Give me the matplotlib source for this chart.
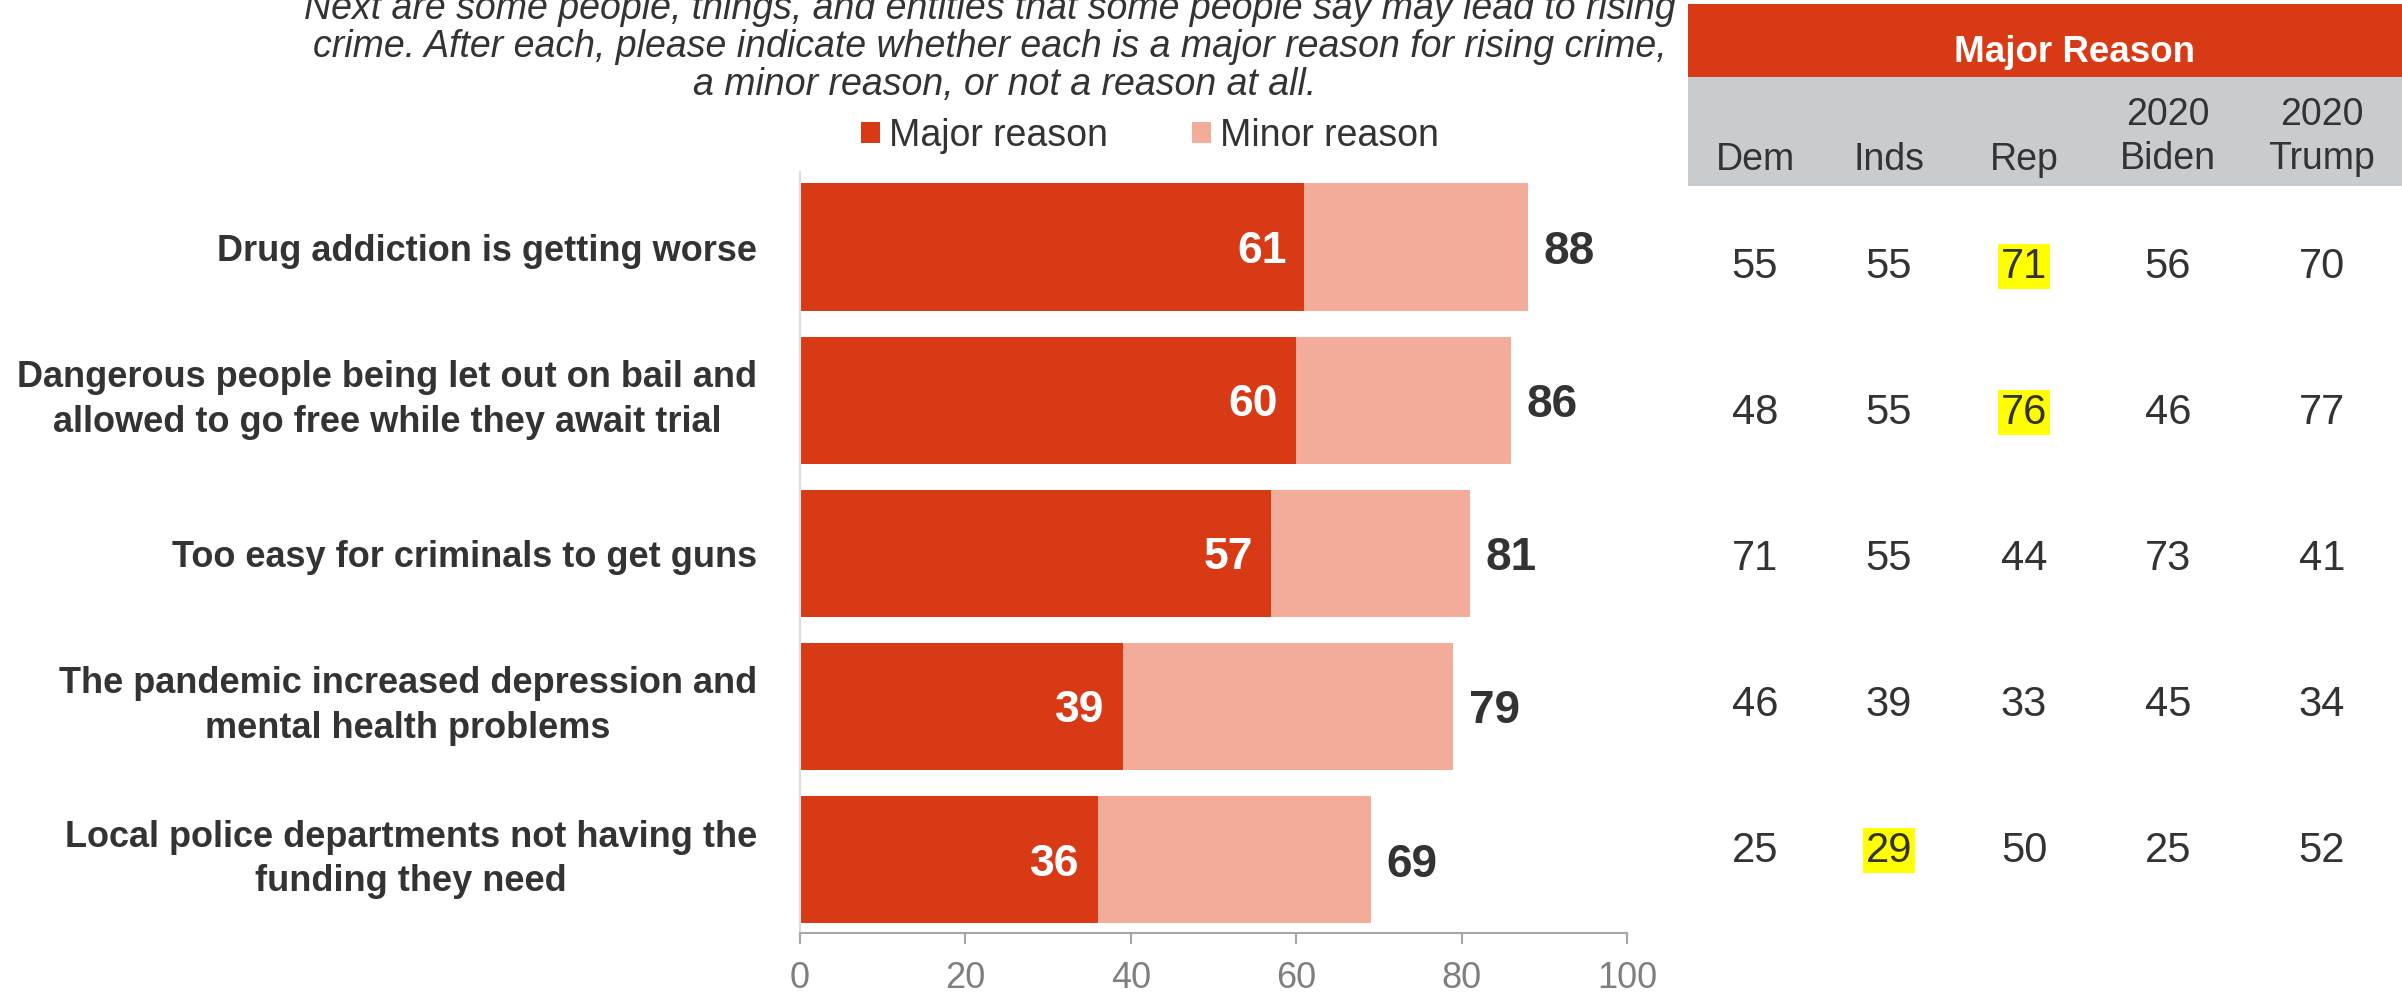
import matplotlib
matplotlib.use("Agg")
import matplotlib.pyplot as plt
from matplotlib.patches import Patch, Rectangle

plt.rcParams['font.family'] = ['Liberation Sans', 'DejaVu Sans']

# ---- data ----
reasons = [
    "Drug addiction is getting worse",
    "Dangerous people being let out on bail and\nallowed to go free while they await trial",
    "Too easy for criminals to get guns",
    "The pandemic increased depression and\nmental health problems",
    "Local police departments not having the\nfunding they need",
]
major = [61, 60, 57, 39, 36]
minor = [27, 26, 24, 40, 33]
total = [88, 86, 81, 79, 69]

groups = ["Dem", "Inds", "Rep", "2020\nBiden", "2020\nTrump"]
dem = [55, 48, 71, 46, 25]
inds = [55, 55, 55, 39, 29]
rep = [71, 76, 44, 33, 50]
biden = [56, 46, 73, 45, 25]
trump = [70, 77, 41, 34, 52]
highlight = [(0, 2), (1, 2), (4, 1)]  # (row, column) cells marked yellow

subtitle = [
    "Next are some people, things, and entities that some people say may lead to rising",
    "crime. After each, please indicate whether each is a major reason for rising crime,",
    "a minor reason, or not a reason at all.",
]

RED = "#D93A16"
PINK = "#F4AC9A"
GREY_HEAD = "#C9CCCF"
TXT = "#333333"

W, H = 2402, 994
fig = plt.figure(figsize=(W / 100, H / 100), dpi=100)


def fx(px):
    return px / W


def fy(py):
    return 1 - py / H


# ---- bar chart ----
ax = fig.add_axes([fx(800), fy(933), fx(1627) - fx(800), fy(172) - fy(933)])
y = list(range(len(reasons)))
ax.barh(y, major, height=0.83, color=RED, linewidth=0)
ax.barh(y, minor, left=major, height=0.83, color=PINK, linewidth=0)
ax.set_xlim(0, 100)
ax.set_ylim(4.48, -0.49)

for i in y:
    ax.annotate(str(major[i]), (major[i], i), xytext=(-13, 0), textcoords="offset points",
                ha="right", va="center_baseline", color="white", fontsize=32, fontweight="bold")
    ax.annotate(str(total[i]), (major[i] + minor[i], i), xytext=(11, 0), textcoords="offset points",
                ha="left", va="center_baseline", color=TXT, fontsize=33, fontweight="bold")

ax.set_yticks(y, reasons)
ax.tick_params(axis="y", length=0, pad=31, labelsize=26, labelcolor=TXT)
for lbl in ax.get_yticklabels():
    lbl.set_multialignment("center")
    lbl.set_linespacing(1.37)
    lbl.set_fontweight("bold")
    if "\n" in lbl.get_text():
        lbl.set_verticalalignment("center")

ax.set_xticks(range(0, 101, 20))
ax.tick_params(axis="x", length=8, width=1.5, color="#A6A6A6", pad=12,
               labelsize=26, labelcolor="#7F7F7F")
for s in ["top", "right"]:
    ax.spines[s].set_visible(False)
ax.spines["bottom"].set_color("#A6A6A6")
ax.spines["bottom"].set_linewidth(1.5)
ax.spines["left"].set_color("#DDDDDD")
ax.spines["left"].set_linewidth(1.5)

# ---- subtitle and legend ----
for line, cx, py in zip(subtitle, [990, 990, 1005], [9, 47, 85]):
    fig.text(fx(cx), fy(py), line, ha="center", va="center", fontsize=27,
             style="italic", color=TXT)

handles = [Patch(facecolor=RED, edgecolor="none"), Patch(facecolor=PINK, edgecolor="none")]
fig.legend(handles, ["Major reason", "Minor reason"], loc="center left",
           bbox_to_anchor=(fx(861), fy(136)), ncol=2, frameon=False, fontsize=27,
           handlelength=0.5, handleheight=0.5, handletextpad=0.24, columnspacing=2.25,
           borderpad=0, borderaxespad=0, labelcolor=TXT)

# ---- table on the right ----
fig.patches.append(Rectangle((fx(1688), fy(77)), 1 - fx(1688), fy(4) - fy(77),
                             transform=fig.transFigure, facecolor=RED, edgecolor="none"))
fig.patches.append(Rectangle((fx(1688), fy(186)), 1 - fx(1688), fy(77) - fy(186),
                             transform=fig.transFigure, facecolor=GREY_HEAD, edgecolor="none"))
fig.text(fx(2074), fy(62), "Major Reason", ha="center", va="baseline", fontsize=26.5,
         fontweight="bold", color="white")

col_x = [1755, 1889, 2024, 2168, 2322]
for name, cx in zip(groups, col_x):
    parts = name.split("\n")
    base = [170] if len(parts) == 1 else [125, 169]
    for part, b in zip(parts, base):
        fig.text(fx(cx), fy(b), part, ha="center", va="baseline", fontsize=27, color=TXT)

ax_t = fig.add_axes([fx(1688), fy(919), 1 - fx(1688), fy(189) - fy(919)])
ax_t.set_xlim(1688, W)
ax_t.set_ylim(4.5, -0.5)
ax_t.axis("off")
columns = [dem, inds, rep, biden, trump]
for c, vals in enumerate(columns):
    for r, v in enumerate(vals):
        box = None
        if (r, c) in highlight:
            box = dict(boxstyle="square,pad=0.07", facecolor="#FFFF00", edgecolor="none")
        ax_t.text(col_x[c], r, str(v), ha="center", va="center_baseline", fontsize=30,
                  color=TXT, bbox=box)

fig.savefig("out.png", dpi=100)
